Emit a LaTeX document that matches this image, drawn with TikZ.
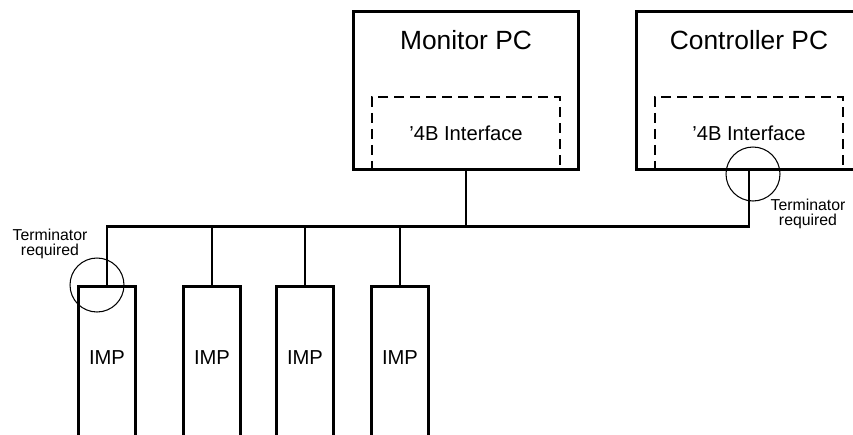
\documentclass[tikz,border=0pt]{standalone}
\usepackage{fontspec}
\setmainfont{Liberation Sans}
\tikzset{
  wire/.style={line width=1.7pt},
  pcbox/.style={draw, line width=1.7pt, minimum width=4.52cm, minimum height=3.16cm, anchor=north},
  pctext/.style={anchor=center, yshift=-0.6cm, font=\fontsize{15}{18}\selectfont},
  ifbox/.style={draw, dash pattern=on 0.2cm off 0.12cm, line width=1.1pt, minimum width=3.76cm, minimum height=1.44cm, anchor=north, font=\fontsize{11.5}{14}\selectfont},
  impbox/.style={draw, line width=1.7pt, minimum width=1.14cm, minimum height=3.6cm, anchor=north},
  imptext/.style={anchor=center, yshift=-1.46cm, font=\fontsize{11.5}{14}\selectfont},
  termring/.style={draw, circle, line width=0.6pt, minimum size=1.08cm, inner sep=0pt},
  termnote/.style={align=center, inner sep=0pt, font=\fontsize{9}{8.5}\selectfont}
}
\begin{document}
\begin{tikzpicture}[x=0.02cm, y=-0.02cm]
    % Page size, the picture is cut at the edges
    \clip (0,0) rectangle (853,434);

    % Interface cards inside the PCs
    \node[ifbox] (monif) at (466,96) {'4B Interface};
    \node[ifbox] (ctlif) at (749,96) {'4B Interface};

    % PCs
    \node[pcbox, label={[pctext]north:Monitor PC}] (mon) at (466,10) {};
    \node[pcbox, label={[pctext]north:Controller PC}] (ctl) at (749,10) {};

    % IMP racks
    \node[impbox, label={[imptext]north:IMP}] (imp1) at (107,285) {};
    \node[impbox, label={[imptext]north:IMP}] (imp2) at (212,285) {};
    \node[impbox, label={[imptext]north:IMP}] (imp3) at (305,285) {};
    \node[impbox, label={[imptext]north:IMP}] (imp4) at (400,285) {};

    % Bus
    \coordinate (busL) at (107,226);
    \coordinate (busR) at (749,226);
    \draw[wire] (imp1.north) -- (busL) -- (busR) -- (ctl.south);
    \draw[wire] (mon.south) -- (mon.south |- busL);
    \foreach \i in {2,3,4}
        \draw[wire] (imp\i.north) -- (imp\i.north |- busL);

    % Terminators at both ends of the bus
    \node[termring] (termL) at (97,285) {};
    \node[termring] (termR) at (753,174) {};
    \node[termnote] (noteL) at (50,244) {Terminator\\required};
    \node[termnote] (noteR) at (808,214) {Terminator\\required};

\end{tikzpicture}
\end{document}
